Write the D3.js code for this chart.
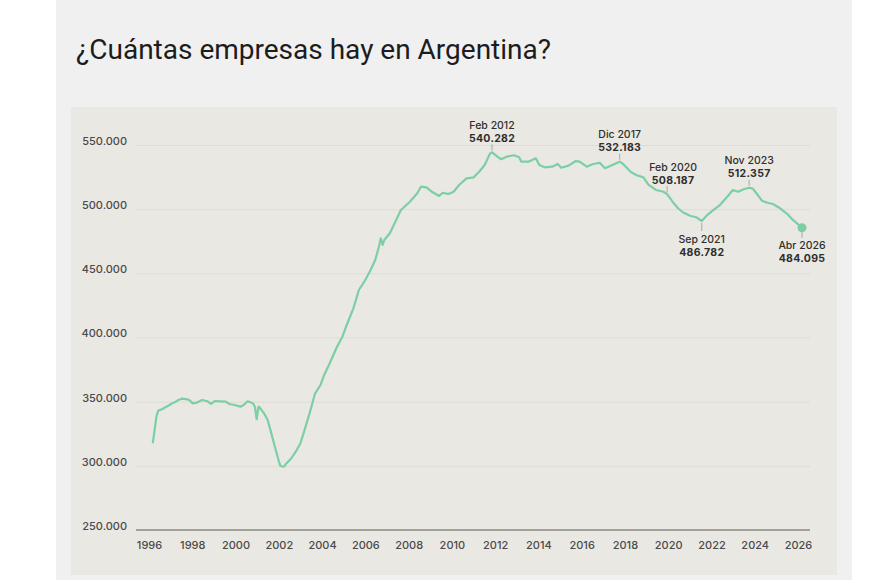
<!DOCTYPE html>
<html><head><meta charset="utf-8">
<script src="https://cdn.jsdelivr.net/npm/d3@7"></script>
<style>
html,body{margin:0;padding:0;background:#fff;}
svg{display:block;font-family:Inter,"Noto Sans",sans-serif;}
</style></head>
<body>
<svg id="chart" width="870" height="580"></svg>
<script>
// ---- data ----
const months = ["1996-08","1996-09","1996-10","1996-11","1997-01","1997-03","1997-05","1997-06","1997-08","1997-10","1997-12",
"1998-03","1998-04","1998-06","1998-08","1998-11","1999-02","1999-04","1999-06","1999-09","1999-12",
"2000-02","2000-05","2000-08","2000-10","2000-12","2001-03","2001-04","2001-05","2001-06","2001-07","2001-09","2001-11",
"2002-01","2002-03","2002-05","2002-06","2002-08","2002-09","2002-12","2003-03","2003-05","2003-07","2003-10",
"2004-01","2004-04","2004-06","2004-09","2005-01","2005-04","2005-06","2005-10","2006-01","2006-04","2006-07","2006-10","2006-12",
"2007-01","2007-02","2007-03","2007-06","2007-09","2007-12","2008-02","2008-05","2008-09","2008-11",
"2009-02","2009-05","2009-09","2009-11","2010-02","2010-05","2010-08","2010-12","2011-04","2011-07","2011-10",
"2012-01","2012-02","2012-05","2012-07","2012-10","2013-02","2013-05","2013-06","2013-10",
"2014-02","2014-04","2014-07","2014-11","2015-02","2015-04","2015-08","2015-12","2016-02","2016-06","2016-09",
"2017-01","2017-04","2017-08","2017-12","2018-02","2018-06","2018-09","2019-01","2019-04","2019-06","2019-08","2019-12",
"2020-02","2020-05","2020-08","2020-11","2021-03","2021-06","2021-09","2021-12","2022-03","2022-07","2022-11",
"2023-02","2023-05","2023-08","2023-11","2024-01","2024-03","2024-06","2024-09","2024-12","2025-04","2025-08","2025-11","2026-04"];
const values = [317600,327900,338300,343000,344100,345600,347200,348200,349500,351300,352300,
351800,351300,348700,349200,351300,350300,348200,350500,350300,350000,
348200,347400,346100,347600,350300,348700,346100,336300,346100,344800,340900,335700,
325300,314900,304500,299900,299300,301400,305900,312300,317600,326600,340900,
356500,363000,370800,379900,392800,400600,408400,422700,437000,443500,451300,460400,470700,
477300,472100,476000,481200,490200,499200,501900,505800,512400,517500,
517000,513600,510300,512800,511800,513600,518800,524000,524800,529200,534400,
543500,544300,540900,538900,540900,542000,540400,537000,537000,
539600,534400,532600,533100,535200,532300,533900,537500,537000,533100,535000,
536200,531800,534400,537000,535000,529200,526600,524800,518800,517000,514900,513600,
511800,505800,500700,497200,494700,493700,490800,495400,498800,503200,509700,
514900,513600,515500,516700,516000,512400,506600,505000,504000,500700,496200,491600,485500];

const yTicks = [250000,300000,350000,400000,450000,500000,550000];
const yearLabels = ["1996","1998","2000","2002","2004","2006","2008","2010","2012","2014","2016","2018","2020","2022","2024","2026"];

const annDates  = ["2012-02","2017-12","2020-02","2021-09","2023-11","2026-04"];
const annLabels = ["Feb 2012","Dic 2017","Feb 2020","Sep 2021","Nov 2023","Abr 2026"];
const annValues = ["540.282","532.183","508.187","486.782","512.357","484.095"];
const annSides  = ["above","above","above","below","above","below"];

const title = "¿Cuántas empresas hay en Argentina?";

// ---- drawing ----
const svg = d3.select("#chart");
const parse = d3.timeParse("%Y-%m");
const series = months.map((m,i)=>({key:m, date:parse(m), value:values[i]}));

// panel backgrounds
svg.append("rect").attr("x",56).attr("y",0).attr("width",796).attr("height",580).attr("fill","#f0f0f0");
svg.append("rect").attr("x",71).attr("y",107).attr("width",766).attr("height",468).attr("fill","#eae8e2");

svg.append("text").attr("x",76).attr("y",59).attr("font-size",28).attr("fill","#1c1c1c")
  .attr("font-family","Roboto,sans-serif").attr("font-weight",400).text(title);

const x = d3.scaleTime().domain([parse("1996-01"), parse("2026-04")]).range([140, 802]);
const y = d3.scaleLinear().domain([250000, 550000]).range([530, 145]);
const xl = d3.scalePoint().domain(yearLabels).range([149, 798]);

const loc = d3.formatLocale({decimal:",", thousands:".", grouping:[3], currency:["$",""]});
const fmt = loc.format(",d");

// y labels
const gy = svg.append("g").attr("transform","translate(127,0)")
  .call(d3.axisLeft(y).tickValues(yTicks).tickFormat(fmt).tickSize(0).tickPadding(0));
gy.select(".domain").remove();
gy.selectAll("text").attr("font-size",11).attr("fill","#4a4a4a").attr("font-weight",500).attr("dy","-0.05em").attr("font-family","Inter,sans-serif");

// gridlines
const gg = svg.append("g").attr("transform","translate(810,0)")
  .call(d3.axisRight(y).tickValues(yTicks.filter(v=>v>250000)).tickSize(-674).tickFormat(""));
gg.select(".domain").remove();
gg.selectAll("line").attr("stroke","#dedcd5").attr("stroke-width",1);

// baseline
svg.append("line").attr("x1",136).attr("x2",810).attr("y1",y(250000)).attr("y2",y(250000))
  .attr("stroke","#a3a29a").attr("stroke-width",2);

// x labels
const gx = svg.append("g").attr("transform","translate(0,541)").call(d3.axisBottom(xl).tickSize(0).tickPadding(0));
gx.select(".domain").remove();
gx.selectAll("text").attr("font-size",11).attr("fill","#4a4a4a").attr("font-weight",500).attr("font-family","Inter,sans-serif");

// line
const line = d3.line().x(d=>x(d.date)).y(d=>y(d.value)).curve(d3.curveLinear);
svg.append("path").datum(series).attr("d",line).attr("fill","none")
  .attr("stroke","#7ccfa4").attr("stroke-width",2.2).attr("stroke-linejoin","round");

// annotations
annDates.forEach((dStr,i)=>{
  const pt = series.find(s=>s.key===dStr);
  const px = x(pt.date), py = y(pt.value);
  const above = annSides[i]==="above";
  const shift = dStr==="2020-02" ? 6 : 0;
  const g = svg.append("g");
  const yl = above ? py-27 : py+18;
  const yv = above ? py-14 : py+31;
  g.append("line").attr("x1",px).attr("x2",px)
    .attr("y1", above ? py-2 : py+2).attr("y2", above ? py-8 : py+10)
    .attr("stroke","#aaa9a2").attr("stroke-width",1);
  g.append("text").attr("x",px+shift).attr("y",yl).attr("dy","0.35em").attr("text-anchor","middle")
    .attr("font-size",10.5).attr("font-weight",500).attr("fill","#2e2e2e").text(annLabels[i]);
  g.append("text").attr("x",px+shift).attr("y",yv).attr("dy","0.35em").attr("text-anchor","middle")
    .attr("font-size",10.5).attr("font-weight",700).attr("fill","#2e2e2e").attr("letter-spacing","0.3").text(annValues[i]);
});

// end dot
const last = series[series.length-1];
svg.append("circle").attr("cx",x(last.date)).attr("cy",y(last.value)).attr("r",4.5).attr("fill","#7ccfa4");
</script>
</body></html>
